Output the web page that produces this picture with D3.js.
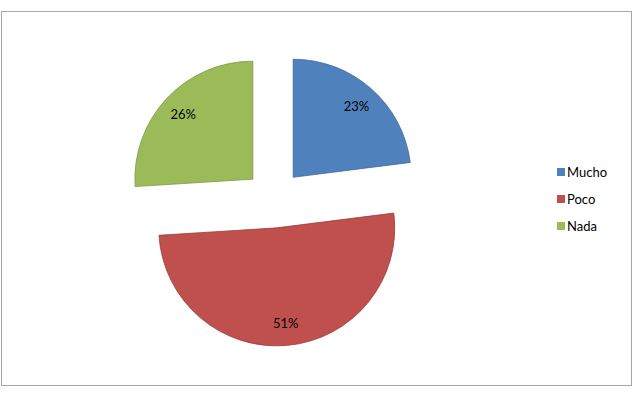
<!DOCTYPE html>
<html>
<head>
<meta charset="utf-8">
<script src="https://cdn.jsdelivr.net/npm/d3@7"></script>
<style>
  html, body { margin: 0; padding: 0; background: #fff; }
  svg { display: block; font-family: Lato, "Open Sans", sans-serif; }
</style>
</head>
<body>
<div id="chart"></div>
<script>
const categories = ['Mucho', 'Poco', 'Nada'];
const values = [23, 51, 26];
const colors = ['#4F81BD', '#C0504D', '#9BBB59'];
const strokes = ['#3d6a9e', '#9e3b38', '#7f9a45'];

const width = 636, height = 395;
const cx = 274, cy = 199, radius = 118, explode = 29;

const svg = d3.select('#chart').append('svg')
  .attr('width', width)
  .attr('height', height);

// chart frame
svg.append('rect')
  .attr('x', 1.5).attr('y', 11.5)
  .attr('width', 630).attr('height', 374)
  .attr('fill', '#fff')
  .attr('stroke', '#a6a6a6')
  .attr('stroke-width', 1);

const pie = d3.pie().sort(null).value(d => d);
const arcs = pie(values);
const arc = d3.arc().innerRadius(0).outerRadius(radius);
const labelArc = d3.arc().innerRadius(radius * 0.81).outerRadius(radius * 0.81);

const total = d3.sum(values);

const g = svg.append('g').attr('transform', `translate(${cx},${cy})`);

const slice = g.selectAll('g.slice')
  .data(arcs)
  .enter().append('g')
  .attr('class', 'slice')
  .attr('transform', d => {
    const mid = (d.startAngle + d.endAngle) / 2;
    return `translate(${Math.sin(mid) * explode},${-Math.cos(mid) * explode})`;
  });

slice.append('path')
  .attr('d', arc)
  .attr('fill', (d, i) => colors[i])
  .attr('stroke', (d, i) => strokes[i])
  .attr('stroke-width', 0.8);

slice.append('text')
  .attr('transform', d => {
    const c = labelArc.centroid(d);
    return `translate(${c[0]},${c[1]})`;
  })
  .attr('text-anchor', 'middle')
  .attr('dominant-baseline', 'central')
  .attr('font-size', 13)
  .attr('fill', '#000')
  .text(d => Math.round(d.value / total * 100) + '%');

// legend
const legend = svg.append('g').attr('transform', 'translate(557,172)');
const item = legend.selectAll('g')
  .data(categories)
  .enter().append('g')
  .attr('transform', (d, i) => `translate(0,${i * 27})`);

item.append('rect')
  .attr('x', 0).attr('y', -4)
  .attr('width', 8).attr('height', 8)
  .attr('fill', (d, i) => colors[i]);

item.append('text')
  .attr('x', 10)
  .attr('y', 0)
  .attr('dominant-baseline', 'central')
  .attr('font-size', 13)
  .attr('fill', '#000')
  .text(d => d);
</script>
</body>
</html>
